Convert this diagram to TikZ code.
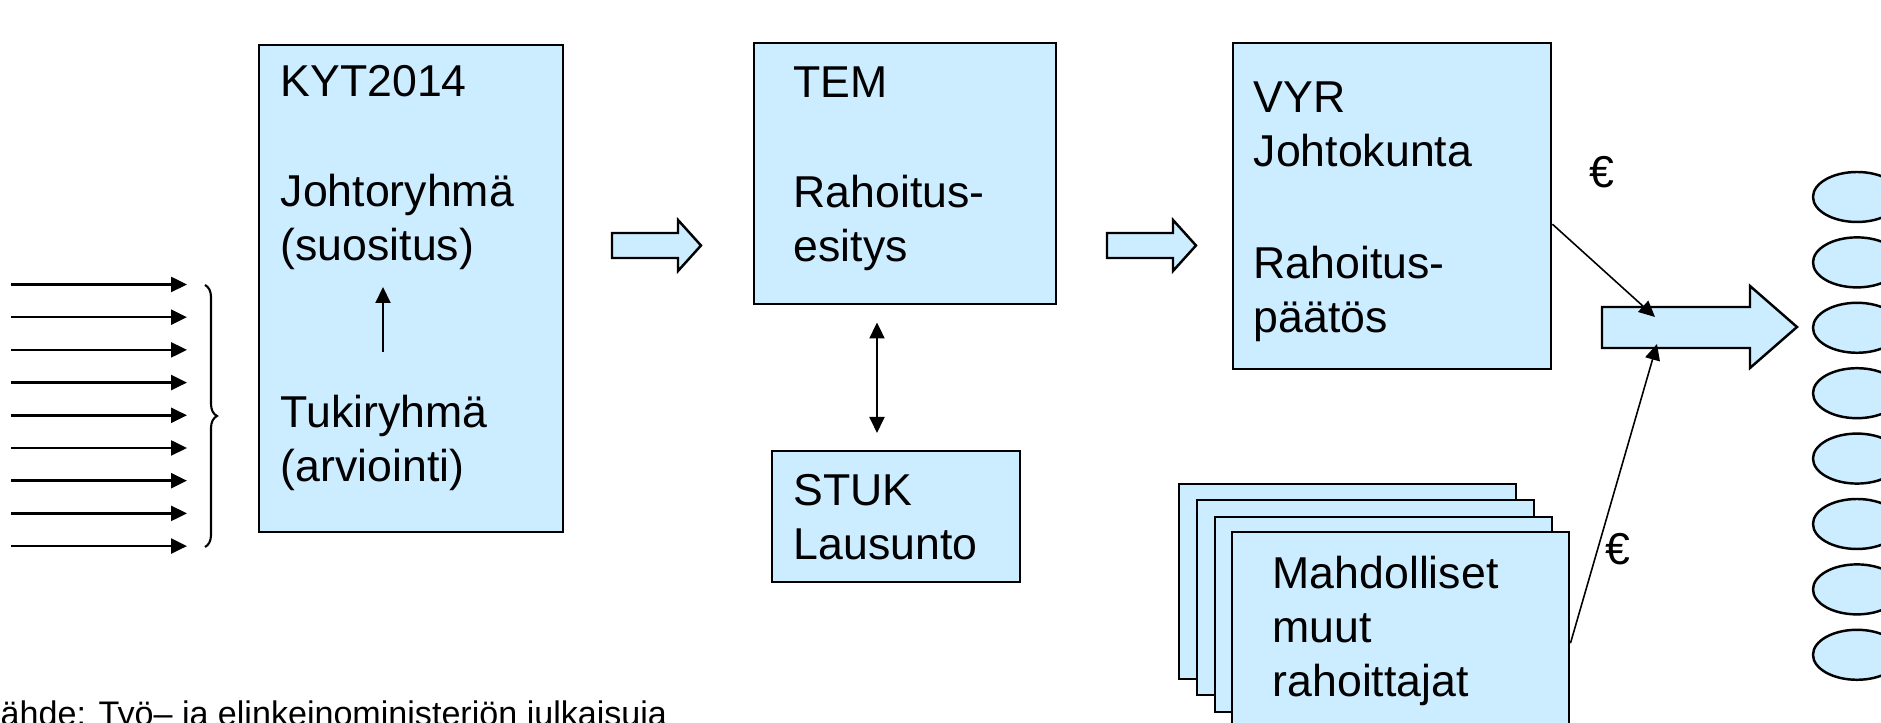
\documentclass[tikz,border=0pt]{standalone}
\usepackage{fontspec}
\setmainfont{Liberation Sans}
\usetikzlibrary{arrows.meta,shapes.geometric,decorations.pathreplacing}
\definecolor{boxblue}{RGB}{204,236,255}

\begin{document}
\begin{tikzpicture}[
  box/.style={draw=black,fill=boxblue,line width=0.7pt,rectangle,anchor=north west,inner sep=0pt},
  oval/.style={draw=black,fill=boxblue,line width=0.7pt,ellipse,inner sep=0pt,minimum width=0.88cm,minimum height=0.5cm},
  blockarrow/.style={draw=black,fill=boxblue,line width=0.7pt,line join=miter},
  txt/.style={anchor=base west,inner sep=0pt,align=left,font=\fontsize{12.7pt}{15.4pt}\selectfont},
  tip/.style={line width=0.55pt,-{Triangle[length=1.6mm,width=1.5mm]}},
  twotip/.style={line width=0.55pt,{Triangle[length=1.6mm,width=1.5mm]}-{Triangle[length=1.6mm,width=1.5mm]}}]
\useasboundingbox (0,0) rectangle (18.81,-7.23);
\clip (0,0) rectangle (18.81,-7.23);

% incoming proposals
\foreach \k in {0,...,8} {
  \coordinate (in\k) at (0.11,{-2.845-0.327*\k});
  \coordinate (to\k) at (1.87,{-2.845-0.327*\k});
  \draw[tip,line width=0.7pt] (in\k) -- (to\k);
}
\coordinate (brtop) at (2.05,-2.85);
\coordinate (brbot) at (2.05,-5.47);
\draw[line width=0.6pt,decorate,decoration={brace,amplitude=0.12cm}] (brtop) -- (brbot);

% KYT2014
\node[box,minimum width=3.04cm,minimum height=4.87cm] (kyt) at (2.58,-0.44) {};
\node[txt] (kytname) at (2.80,-0.97) {KYT2014};
\node[txt] (johto) at (2.80,-2.61) {Johtoryhmä\\(suositus)};
\node[txt] (tuki) at (2.80,-4.82) {Tukiryhmä\\(arviointi)};
\coordinate (kytlow) at (3.83,-3.52);
\coordinate (kythigh) at (3.83,-2.87);
\draw[tip] (kytlow) -- (kythigh);

\draw[blockarrow] (6.12,-2.33) -- (6.78,-2.33) -- (6.78,-2.20) -- (7.01,-2.455)
  -- (6.78,-2.71) -- (6.78,-2.58) -- (6.12,-2.58) -- cycle;

% TEM and STUK
\node[box,minimum width=3.02cm,minimum height=2.61cm] (tem) at (7.53,-0.42) {};
\node[txt] (temname) at (7.93,-0.98) {TEM};
\node[txt] (esitys) at (7.93,-2.62) {Rahoitus-\\esitys};
\node[box,minimum width=2.48cm,minimum height=1.31cm] (stuk) at (7.71,-4.50) {};
\node[txt] (lausunto) at (7.93,-5.60) {STUK\\Lausunto};
\coordinate (xs) at (8.77,0);
\draw[twotip,shorten <=0.17cm,shorten >=0.17cm] (tem.south -| xs) -- (stuk.north -| xs);

\draw[blockarrow] (11.07,-2.33) -- (11.73,-2.33) -- (11.73,-2.20) -- (11.96,-2.455)
  -- (11.73,-2.71) -- (11.73,-2.58) -- (11.07,-2.58) -- cycle;

% VYR
\node[box,minimum width=3.18cm,minimum height=3.26cm] (vyr) at (12.32,-0.42) {};
\node[txt] (vyrname) at (12.53,-1.67) {VYR\\Johtokunta};
\node[txt] (paatos) at (12.53,-3.33) {Rahoitus-\\päätös};
\node[txt] (eur1) at (15.89,-1.88) {€};

% other funders
\node[box,minimum width=3.37cm,minimum height=1.95cm] (st1) at (11.78,-4.83) {};
\node[box,minimum width=3.37cm,minimum height=1.95cm] (st2) at (11.96,-4.99) {};
\node[box,minimum width=3.37cm,minimum height=1.95cm] (st3) at (12.14,-5.16) {};
\node[box,minimum width=3.37cm,minimum height=1.95cm] (muut) at (12.31,-5.31) {};
\node[txt] (muutname) at (12.72,-6.97) {Mahdolliset\\muut\\rahoittajat};
\node[txt] (eur2) at (16.05,-5.65) {€};

% money to projects
\draw[blockarrow] (16.02,-3.07) -- (17.50,-3.07) -- (17.50,-2.86) -- (17.97,-3.27)
  -- (17.50,-3.68) -- (17.50,-3.48) -- (16.02,-3.48) -- cycle;
\coordinate (hit1) at (16.55,-3.17);
\coordinate (hit2) at (16.57,-3.44);
\draw[tip,line width=0.45pt] ([yshift=-0.18cm]vyr.east) -- (hit1);
\draw[tip,line width=0.45pt] ([yshift=-0.135cm]muut.east) -- (hit2);

\foreach \k in {0,...,7}
  \node[oval] (proj\k) at (18.57,{-1.97-0.654*\k}) {};

\node[anchor=base west,inner sep=0pt,font=\fontsize{9.7pt}{11pt}\selectfont] (lahde) at (0,-7.26)
  {ähde: Työ– ja elinkeinoministeriön julkaisuja};
\end{tikzpicture}
\end{document}
